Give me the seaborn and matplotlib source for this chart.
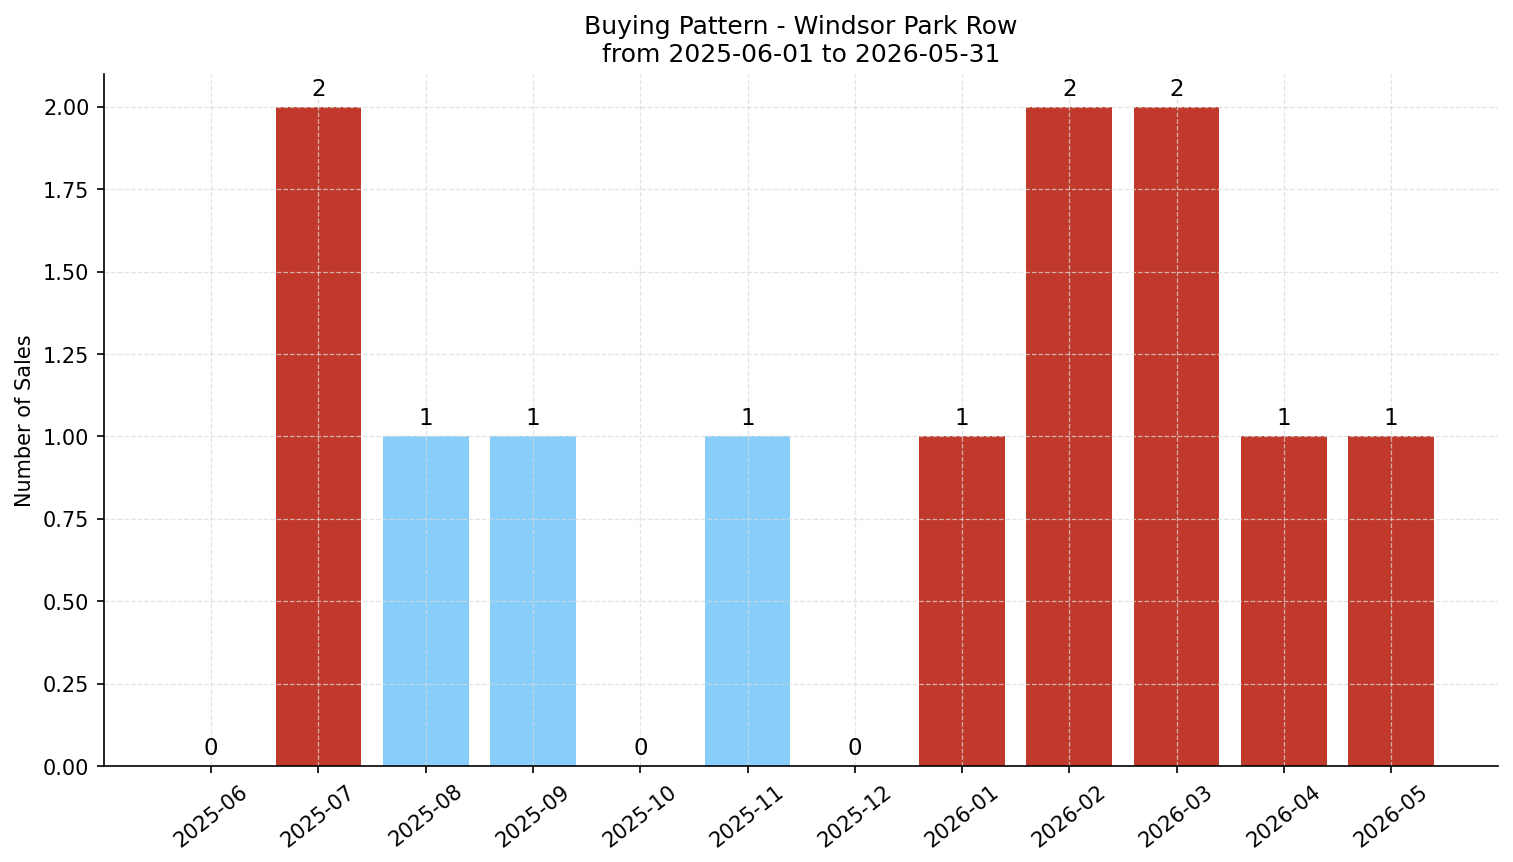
import numpy as np
import pandas as pd
import seaborn as sns
import matplotlib
matplotlib.use("Agg")
import matplotlib.pyplot as plt

# données
mois = ["2025-06", "2025-07", "2025-08", "2025-09", "2025-10", "2025-11",
        "2025-12", "2026-01", "2026-02", "2026-03", "2026-04", "2026-05"]
ventes = [0, 2, 1, 1, 0, 1, 0, 1, 2, 2, 1, 1]
en_hausse = [False, True, False, False, False, False,
             False, True, True, True, True, True]

df = pd.DataFrame({"mois": mois, "ventes": ventes, "hausse": en_hausse})
couleurs = ["#c0392b" if h else "#87cefa" for h in df["hausse"]]

fig, ax = plt.subplots(figsize=(10.09, 5.75), dpi=150)
sns.barplot(data=df, x="mois", y="ventes", hue="mois", palette=couleurs,
            legend=False, width=0.8, saturation=1, ax=ax)

for i, v in enumerate(df["ventes"]):
    ax.text(i, v + 0.02, str(v), ha="center", va="bottom", fontsize=11)

ax.set_xlim(-1, 12)
ax.set_ylim(0, 2.1)
ax.set_xlabel("")
ax.set_ylabel("Number of Sales", fontsize=10)
ax.set_title("Buying Pattern - Windsor Park Row\nfrom 2025-06-01 to 2026-05-31", fontsize=12)
ax.tick_params(axis="x", labelrotation=38, labelsize=10)
ax.tick_params(axis="y", labelsize=10)
for lab in ax.get_xticklabels():
    lab.set_ha("center")
ax.yaxis.set_major_formatter(matplotlib.ticker.FormatStrFormatter("%.2f"))
ax.grid(True, linestyle="--", color="#dadada", alpha=0.75, linewidth=0.6)
ax.spines["top"].set_visible(False)
ax.spines["right"].set_visible(False)

plt.subplots_adjust(left=0.0687, right=0.990, top=0.914, bottom=0.111)
plt.savefig("out.png", dpi=150)
